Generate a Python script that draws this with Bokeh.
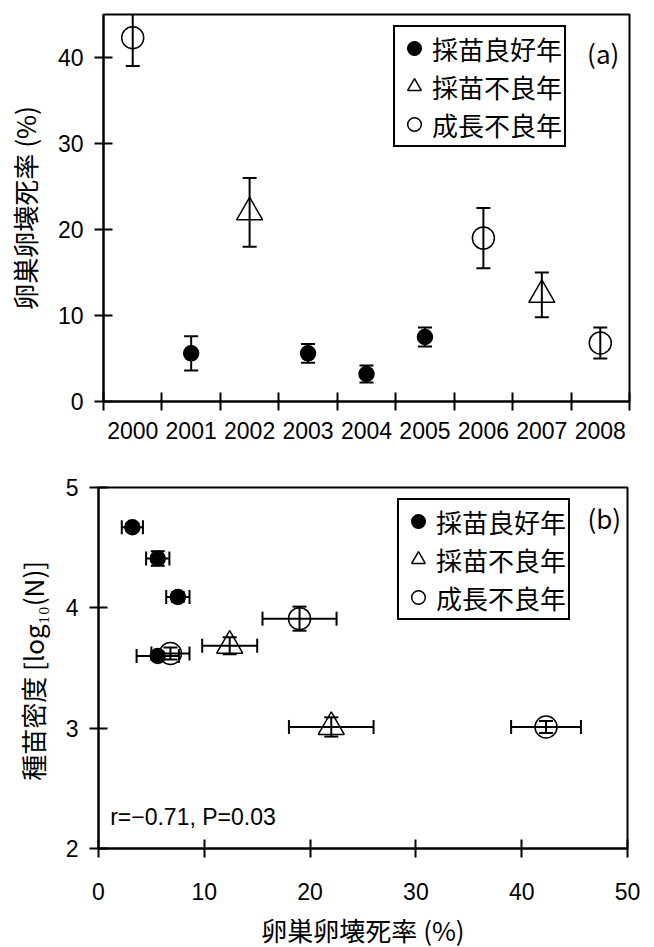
from bokeh.plotting import figure
from bokeh.models import (ColumnDataSource, Whisker, TeeHead, Legend, LegendItem,
                          Label, FixedTicker, Range1d)
from bokeh.layouts import column, row
from bokeh.embed import file_html
from bokeh.resources import INLINE

# ---------------- data ----------------
years = [2000, 2001, 2002, 2003, 2004, 2005, 2006, 2007, 2008]
year_class = ["成長不良年", "採苗良好年", "採苗不良年", "採苗良好年", "採苗良好年",
              "採苗良好年", "成長不良年", "採苗不良年", "成長不良年"]
mortality = [42.3, 5.6, 22.0, 5.6, 3.2, 7.5, 19.0, 12.4, 6.8]        # 卵巣卵壊死率 (%)
mortality_err = [3.3, 2.0, 4.0, 1.1, 1.0, 1.1, 3.5, 2.6, 1.8]
density = [3.01, 3.60, 3.01, 4.41, 4.67, 4.09, 3.91, 3.685, 3.62]    # log10(N)
density_err = [0.05, 0.03, 0.08, 0.06, 0.03, 0.04, 0.10, 0.07, 0.05]

classes = ["採苗良好年", "採苗不良年", "成長不良年"]
y1_ticks = [0, 10, 20, 30, 40]
x2_ticks = [0, 10, 20, 30, 40, 50]
y2_ticks = [2, 3, 4, 5]
stat_text = "r=\u22120.71, P=0.03"

# ---------------- styles ----------------
CJK = "Noto Sans CJK JP"
NUM = "Liberation Sans"
marker_style = {
    "採苗良好年": dict(marker="circle", size=15, fill_color="black", line_color="black"),
    "採苗不良年": dict(marker="triangle", size=26, fill_color=None, line_color="black"),
    "成長不良年": dict(marker="circle", size=22, fill_color=None, line_color="black"),
}


def subset(cls):
    idx = [i for i, c in enumerate(year_class) if c == cls]
    return ColumnDataSource(dict(
        year=[years[i] for i in idx],
        mort=[mortality[i] for i in idx],
        mort_lo=[mortality[i] - mortality_err[i] for i in idx],
        mort_hi=[mortality[i] + mortality_err[i] for i in idx],
        dens=[density[i] for i in idx],
        dens_lo=[density[i] - density_err[i] for i in idx],
        dens_hi=[density[i] + density_err[i] for i in idx],
    ))


def style_axes(p):
    p.xgrid.visible = False
    p.ygrid.visible = False
    p.outline_line_color = "black"
    p.outline_line_width = 2
    p.outline_line_alpha = 1
    p.background_fill_color = "white"
    p.border_fill_color = "white"
    for ax in p.axis:
        ax.axis_line_color = "black"
        ax.axis_line_width = 2
        ax.major_tick_line_color = "black"
        ax.major_tick_line_width = 2
        ax.major_tick_in = 9
        ax.major_tick_out = 9
        ax.minor_tick_line_color = None
        ax.major_label_text_font = NUM
        ax.major_label_text_font_size = "23px"
        ax.major_label_text_color = "black"
        ax.axis_label_text_font = CJK
        ax.axis_label_text_font_size = "26px"
        ax.axis_label_text_font_style = "normal"
        ax.axis_label_text_color = "black"


def add_legend(p, renderers, vx, vy):
    items = [LegendItem(label=c, renderers=[r]) for c, r in zip(classes, renderers)]
    leg = Legend(items=items, location=(vx, vy), margin=0, padding=2, spacing=0,
                 glyph_width=34, glyph_height=38, label_standoff=1,
                 label_text_font=CJK, label_text_font_size="26px",
                 label_text_color="black",
                 border_line_color="black", border_line_width=2, border_line_alpha=1,
                 background_fill_color="white", background_fill_alpha=1)
    p.add_layout(leg)


def tee():
    return TeeHead(size=14, line_width=2, line_color="black")


# ---------------- (a) ----------------
p1 = figure(frame_width=526, frame_height=387, output_backend="svg", toolbar_location=None,
            x_range=Range1d(years[0] - 0.5, years[-1] + 0.5), y_range=Range1d(0, 45),
            min_border_left=103, min_border_right=17, min_border_top=14, min_border_bottom=69)
style_axes(p1)
p1.xaxis.ticker = FixedTicker(ticks=years, minor_ticks=[y - 0.5 for y in years] + [years[-1] + 0.5])
p1.xaxis.major_tick_in = 0
p1.xaxis.major_tick_out = 0
p1.xaxis.minor_tick_line_color = "black"
p1.xaxis.minor_tick_line_width = 2
p1.xaxis.minor_tick_in = 9
p1.xaxis.minor_tick_out = 9
p1.xaxis.major_label_standoff = 11
p1.yaxis.ticker = FixedTicker(ticks=y1_ticks)
p1.yaxis.major_label_standoff = 11
p1.yaxis.axis_label = "卵巣卵壊死率 (%)"
p1.yaxis.axis_label_standoff = 12

rs1 = []
for c in classes:
    src = subset(c)
    p1.add_layout(Whisker(source=src, base="year", lower="mort_lo", upper="mort_hi",
                          dimension="height", line_color="black", line_width=2,
                          upper_head=tee(), lower_head=tee()))
    rs1.append(p1.scatter("year", "mort", source=src, line_width=1.5, **marker_style[c]))
add_legend(p1, rs1, 290, 254)
p1.add_layout(Label(x=2008.05, y=40.6, text="(a)", text_font=CJK, text_font_size="26px",
                    text_align="center", text_baseline="middle", text_color="black"))

# ---------------- (b) ----------------
p2 = figure(frame_width=529, frame_height=361, output_backend="svg", toolbar_location=None,
            x_range=Range1d(0, 50), y_range=Range1d(2, 5),
            min_border_left=98, min_border_right=19, min_border_top=17, min_border_bottom=91)
style_axes(p2)
p2.xaxis.ticker = FixedTicker(ticks=x2_ticks)
p2.xaxis.major_label_standoff = 25
p2.xaxis.axis_label = "卵巣卵壊死率 (%)"
p2.xaxis.axis_label_standoff = 8
p2.yaxis.ticker = FixedTicker(ticks=y2_ticks)
p2.yaxis.major_label_standoff = 11
p2.yaxis.axis_label = "種苗密度  [log\u2081\u2080(N)]"
p2.yaxis.axis_label_standoff = 12

rs2 = []
for c in classes:
    src = subset(c)
    p2.add_layout(Whisker(source=src, base="dens", lower="mort_lo", upper="mort_hi",
                          dimension="width", line_color="black", line_width=2,
                          upper_head=tee(), lower_head=tee()))
    p2.add_layout(Whisker(source=src, base="mort", lower="dens_lo", upper="dens_hi",
                          dimension="height", line_color="black", line_width=2,
                          upper_head=tee(), lower_head=tee()))
    rs2.append(p2.scatter("mort", "dens", source=src, line_width=1.5, **marker_style[c]))
add_legend(p2, rs2, 299, 228)
p2.add_layout(Label(x=47.8, y=4.75, text="(b)", text_font=CJK, text_font_size="26px",
                    text_align="center", text_baseline="middle", text_color="black"))
p2.add_layout(Label(x=1.1, y=2.26, text=stat_text, text_font=NUM, text_font_size="23px",
                    text_align="left", text_baseline="middle", text_color="black"))

layout = column(row(p1), row(p2), spacing=0)
open("out.html", "w").write(file_html(layout, INLINE))
